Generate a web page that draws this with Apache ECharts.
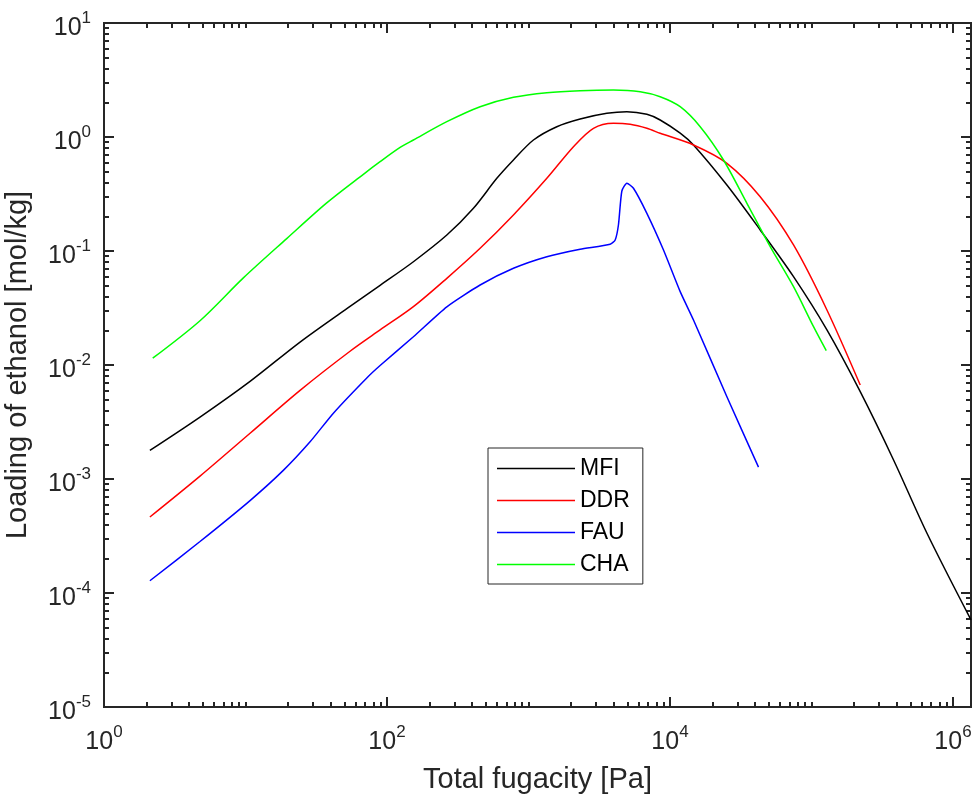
<!DOCTYPE html>
<html>
<head>
<meta charset="utf-8">
<script src="https://cdn.jsdelivr.net/npm/echarts@6/dist/echarts.min.js"></script>
<style>html,body{margin:0;padding:0;background:#fff}#chart{width:974px;height:798px}</style>
</head>
<body>
<div id="chart"></div>
<script>
// ---- data (x: total fugacity [Pa], y: loading [mol/kg]) ----
const seriesNames = ['MFI', 'DDR', 'FAU', 'CHA'];
const seriesColors = ['#000000', '#ff0000', '#0000ff', '#00ff00'];

const MFI = [
  [2.11, 1.78e-3], [4.77, 3.49e-3], [10.77, 7.18e-3], [24.3, 0.0159], [54.8, 0.0327],
  [89.4, 0.050], [153.7, 0.0805], [264.8, 0.138], [408.2, 0.237], [597.4, 0.434],
  [782.9, 0.629], [1084, 0.941], [1586, 1.231], [2318, 1.438], [3580, 1.614],
  [4958, 1.667], [6866, 1.581], [8524, 1.41], [11808, 1.08], [14660, 0.851],
  [25250, 0.379], [43420, 0.153], [74670, 0.0595], [128600, 0.0203], [221100, 5.83e-3],
  [380300, 1.468e-3], [655100, 3.34e-4], [1341000, 5.8e-5]
];
const DDR = [
  [2.11, 4.64e-4], [4.77, 1.06e-3], [10.77, 2.52e-3], [24.3, 5.99e-3], [54.8, 0.0132],
  [89.4, 0.0203], [153.7, 0.0325], [264.8, 0.0576], [455.1, 0.1056], [782.9, 0.207],
  [1348, 0.434], [2079, 0.822], [2879, 1.192], [3987, 1.319], [5231, 1.292],
  [6866, 1.192], [8524, 1.078], [14660, 0.851], [25250, 0.588], [43420, 0.2995],
  [74670, 0.1129], [128600, 0.0304], [221100, 6.68e-3]
];
const FAU = [
  [2.11, 1.28e-4], [4.77, 2.83e-4], [10.77, 6.47e-4], [18.5, 1.19e-3], [28.6, 2.12e-3],
  [41.8, 3.78e-3], [72, 7.7e-3], [89.4, 0.0099], [153.7, 0.0177], [264.8, 0.0324],
  [455.1, 0.0503], [782.9, 0.0705], [1348, 0.0891], [2318, 0.1035], [3777, 0.1145],
  [4099, 0.125], [4324, 0.17], [4570, 0.336], [4958, 0.393], [5520, 0.355],
  [6866, 0.214], [8998, 0.102], [11808, 0.044], [14660, 0.0248], [25250, 5.27e-3],
  [42230, 1.27e-3]
];
const CHA = [
  [2.21, 0.01147], [4.77, 0.02446], [9.66, 0.05808], [19.56, 0.1285], [37.5, 0.2642],
  [68.1, 0.4709], [89.4, 0.607], [123.8, 0.809], [153.7, 0.941], [264.8, 1.362],
  [455.1, 1.844], [782.9, 2.229], [1348, 2.447], [2318, 2.548], [3987, 2.584],
  [6157, 2.497], [8524, 2.257], [11808, 1.844], [16350, 1.231], [23890, 0.6286],
  [34980, 0.2621], [51100, 0.1091], [74670, 0.04861], [103400, 0.02168], [127200, 0.01335]
];
const seriesData = [MFI, DDR, FAU, CHA];
const seriesSmooth = [0.3, 0.3, 0.2, 0.3];

// ---- axes ----
const X_MIN = 1, X_MAX = 1.341e6, Y_MIN = 1e-5, Y_MAX = 10;
const xLabelPowers = [0, 2, 4, 6];
const yLabelPowers = [-5, -4, -3, -2, -1, 0, 1];
const xTitle = 'Total fugacity [Pa]';
const yTitle = 'Loading of ethanol [mol/kg]';

const FONT = '"Liberation Sans", Arial, Helvetica, sans-serif';
const AX = '#262626';

function powLabel(powers) {
  return function (v) {
    const e = Math.log10(v);
    const r = Math.round(e);
    if (Math.abs(e - r) > 1e-6 || powers.indexOf(r) < 0) return '';
    return '{b|10}{s|' + r + '}';
  };
}
const richStyle = {
  b: { fontSize: 25, lineHeight: 37, color: AX, fontFamily: FONT },
  s: { fontSize: 17, lineHeight: 17, verticalAlign: 'top', color: AX, fontFamily: FONT }
};

const xMajor = xLabelPowers.map(p => Math.pow(10, p));
const yMajor = yLabelPowers.map(p => Math.pow(10, p));
function minorTicks(lo, hi, majors) {
  const out = [];
  for (let k = Math.floor(Math.log10(lo)); k <= Math.ceil(Math.log10(hi)); k++) {
    for (let m = 1; m <= 9; m++) {
      const v = m * Math.pow(10, k);
      if (v > lo * 1.0001 && v < hi * 0.9999 && majors.every(M => Math.abs(M - v) / M > 1e-6)) out.push(v);
    }
  }
  return out;
}
const xMinor = minorTicks(X_MIN, X_MAX, xMajor);
const yMinor = minorTicks(Y_MIN, Y_MAX, yMajor);

function tickAxis(kind, position, values, len) {
  const isX = kind === 'x';
  return {
    type: 'log', position: position,
    min: isX ? X_MIN : Y_MIN, max: isX ? X_MAX : Y_MAX,
    axisLine: { show: false }, splitLine: { show: false },
    axisLabel: { show: false },
    axisTick: { show: true, inside: true, length: len, customValues: values,
                lineStyle: { color: AX, width: 2 } }
  };
}

const chart = echarts.init(document.getElementById('chart'), null, { renderer: 'canvas' });

const series = seriesNames.map((n, i) => ({
  name: n, type: 'line', data: seriesData[i], symbol: 'none',
  smooth: seriesSmooth[i],
  lineStyle: { color: seriesColors[i], width: 1.5 },
  itemStyle: { color: seriesColors[i] }
}));

chart.setOption({
  animation: false,
  backgroundColor: '#ffffff',
  grid: { left: 104, right: 3, top: 23, bottom: 91, show: true, borderColor: AX, borderWidth: 2,
          containLabel: false, outerBoundsMode: 'none' },
  xAxis: [
    {
      type: 'log', min: X_MIN, max: X_MAX, position: 'bottom',
      name: xTitle, nameLocation: 'middle', nameGap: 58,
      nameTextStyle: { fontSize: 29, color: AX, fontFamily: FONT },
      axisLine: { show: false }, splitLine: { show: false },
      axisTick: { show: true, inside: true, length: 10, customValues: xMajor, lineStyle: { color: AX, width: 2 } },
      axisLabel: { formatter: powLabel(xLabelPowers), margin: 17, rich: richStyle, hideOverlap: false }
    },
    tickAxis('x', 'bottom', xMinor, 5),
    tickAxis('x', 'top', xMajor, 10),
    tickAxis('x', 'top', xMinor, 5)
  ],
  yAxis: [
    {
      type: 'log', min: Y_MIN, max: Y_MAX, position: 'left',
      name: yTitle, nameLocation: 'middle', nameGap: 72,
      nameTextStyle: { fontSize: 29, color: AX, fontFamily: FONT },
      axisLine: { show: false }, splitLine: { show: false },
      axisTick: { show: true, inside: true, length: 10, customValues: yMajor, lineStyle: { color: AX, width: 2 } },
      axisLabel: { formatter: powLabel(yLabelPowers), margin: 13, padding: [10, 0, 0, 0], rich: richStyle, hideOverlap: false }
    },
    tickAxis('y', 'left', yMinor, 5),
    tickAxis('y', 'right', yMajor, 10),
    tickAxis('y', 'right', yMinor, 5)
  ],
  legend: {
    data: seriesNames, orient: 'vertical', left: 488, top: 448,
    icon: 'rect', itemWidth: 78, itemHeight: 1.5, itemGap: 9,
    padding: [9, 13, 8, 9], borderColor: AX, borderWidth: 1, backgroundColor: '#ffffff',
    textStyle: { fontFamily: FONT, fontSize: 23, color: '#000000', lineHeight: 23 },
    selectedMode: false
  },
  series: series
});
</script>
</body>
</html>
